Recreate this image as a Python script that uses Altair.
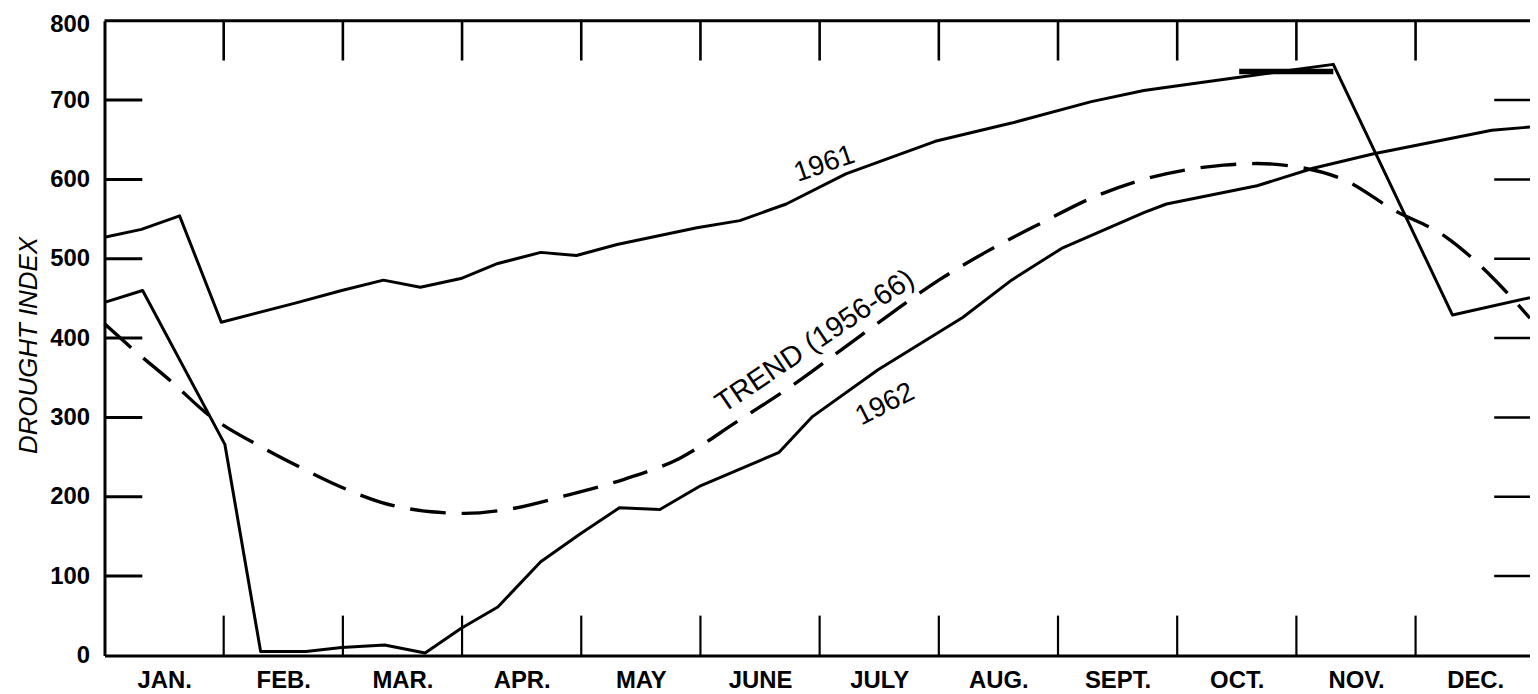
import altair as alt
import pandas as pd

# ---------------- data ----------------
MONTHS = ["JAN.", "FEB.", "MAR.", "APR.", "MAY", "JUNE", "JULY",
          "AUG.", "SEPT.", "OCT.", "NOV.", "DEC."]

# month position (0 = start of January) and drought index
t_1961 = [0.00, 0.31, 0.63, 0.98, 1.60, 1.99, 2.34, 2.65, 2.99, 3.30, 3.66,
          3.96, 4.30, 4.97, 5.33, 5.72, 6.22, 6.97, 7.61, 8.28, 8.72, 9.14,
          10.31, 11.31, 11.96]
v_1961 = [527, 537, 554, 420, 444, 460, 473, 464, 475, 494, 508,
          504, 518, 539, 548, 569, 607, 648, 671, 698, 712, 721,
          745, 429, 451]

t_1962 = [0.00, 0.32, 1.01, 1.31, 1.69, 1.99, 2.35, 2.69, 2.99, 3.30, 3.66,
          3.99, 4.32, 4.66, 4.99, 5.66, 5.94, 6.49, 7.20, 7.61, 8.03, 8.72,
          8.91, 9.67, 10.14, 10.64, 11.64, 11.96]
v_1962 = [445, 460, 266, 5, 5, 10, 13, 3, 34, 61, 118,
          153, 186, 184, 213, 256, 301, 360, 426, 473, 513, 558,
          569, 592, 614, 632, 662, 666]

t_trend = [0.00, 0.23, 0.57, 0.85, 1.35, 1.63, 1.90, 2.32, 2.74, 3.02, 3.38,
           3.86, 4.36, 4.82, 5.30, 5.76, 6.19, 6.59, 7.00, 7.39, 7.86, 8.29,
           8.72, 9.39, 9.67, 9.95, 10.42, 10.81, 11.25, 11.75, 11.96]
v_trend = [418, 387, 344, 306, 260, 238, 218, 193, 181, 179, 184,
           201, 222, 248, 294, 339, 386, 430, 473, 508, 545, 577,
           600, 618, 620, 617, 598, 562, 528, 460, 425]

# short heavy stroke drawn over the 1961 curve in late October / November
t_mark = [9.52, 10.31]
v_mark = [736, 736]

y_ticks = [0, 100, 200, 300, 400, 500, 600, 700, 800]
inner_ticks = [100, 200, 300, 400, 500, 600, 700]
month_bounds = [1, 2, 3, 4, 5, 6, 7, 8, 9, 10, 11]
label_pos = [m + 0.5 for m in range(12)]

label_text = ["1961", "1962", "TREND (1956-66)"]
label_t = [6.04, 6.55, 5.96]
label_v = [619, 316, 396]
label_angle = [341, 333, 326]
label_size = [28, 28, 29]

X_MAX = 11.96
W, H = 1433, 638
FONT = "Liberation Sans"

# ---------------- tables ----------------
lines = pd.concat([
    pd.DataFrame({"t": t_1961, "v": v_1961, "series": "1961"}),
    pd.DataFrame({"t": t_1962, "v": v_1962, "series": "1962"}),
])
trend = pd.DataFrame({"t": t_trend, "v": v_trend})
mark_df = pd.DataFrame({"t": t_mark, "v": v_mark})
inner_df = pd.DataFrame({"v": inner_ticks})
bounds_df = pd.DataFrame({"t": month_bounds})
labels_df = pd.DataFrame({"label": label_text, "t": label_t, "v": label_v,
                          "angle": label_angle, "size": label_size})
one = pd.DataFrame({"k": [0]})

month_expr = "[" + ",".join("'" + m + "'" for m in MONTHS) + "][floor(datum.value)]"

x_scale = alt.Scale(domain=[0, X_MAX], nice=False, zero=False)
y_scale = alt.Scale(domain=[0, 800], nice=False, zero=True)

x_axis = alt.Axis(values=label_pos, labelExpr=month_expr, title=None,
                  grid=False, ticks=False, tickSize=0, labelPadding=13,
                  labelFont=FONT, labelFontSize=24, labelFontWeight="bold",
                  labelColor="black", domainColor="black", domainWidth=3,
                  labelFlush=False, labelOverlap=False)
y_axis = alt.Axis(values=y_ticks, title="DROUGHT INDEX", grid=False,
                  ticks=False, tickSize=0, labelPadding=15,
                  labelFont=FONT, labelFontSize=24, labelFontWeight="bold",
                  labelColor="black", domainColor="black", domainWidth=3,
                  labelOffset={"condition": {"test": "datum.value == 800", "value": 4},
                               "value": 0},
                  titleFont=FONT, titleFontSize=26, titleFontStyle="italic",
                  titleFontWeight="normal", titleColor="black",
                  titleX=-76, titleY=326, titleAngle=270,
                  titleAlign="center", titleBaseline="middle",
                  labelFlush=False, labelOverlap=False)


def X(field="t"):
    return alt.X(field, type="quantitative", scale=x_scale, axis=x_axis)


def Y(field="v"):
    return alt.Y(field, type="quantitative", scale=y_scale, axis=y_axis)


solid = alt.Chart(lines).mark_line(color="black", strokeWidth=3,
                                   strokeJoin="round").encode(
    x=X(), y=Y(), detail="series:N", order="t:Q")

dashed = alt.Chart(trend).mark_line(color="black", strokeWidth=3.4,
                                    strokeDash=[36, 16], interpolate="monotone").encode(
    x=X(), y=Y(), order="t:Q")

heavy = alt.Chart(mark_df).mark_line(color="black", strokeWidth=5.5).encode(
    x=X(), y=Y())

left_ticks = alt.Chart(inner_df).mark_rule(color="black", strokeWidth=3).encode(
    y=Y(), x=alt.value(0), x2=alt.value(38))

right_ticks = alt.Chart(inner_df).mark_rule(color="black", strokeWidth=2.5).encode(
    y=Y(), x=alt.value(W - 36), x2=alt.value(W))

bottom_ticks = alt.Chart(bounds_df).mark_rule(color="black", strokeWidth=2.2).encode(
    x=X(), y=alt.value(H), y2=alt.value(H - 40))

top_ticks = alt.Chart(bounds_df).mark_rule(color="black", strokeWidth=2.6).encode(
    x=X(), y=alt.value(0), y2=alt.value(40))

top_border = alt.Chart(one).mark_rule(color="black", strokeWidth=3).encode(
    y=alt.value(0), x=alt.value(0), x2=alt.value(W))

texts = alt.Chart(labels_df).mark_text(font=FONT, color="black",
                                       align="center", baseline="middle").encode(
    x=X(), y=Y(), text="label:N",
    angle=alt.Angle("angle:Q", scale=None),
    size=alt.Size("size:Q", scale=None))

chart = alt.layer(
    solid, dashed, heavy, left_ticks, right_ticks, bottom_ticks, top_ticks,
    top_border, texts
).properties(
    width=W, height=H,
    autosize=alt.AutoSizeParams(type="none"),
    padding={"left": 97, "top": 11, "right": 0, "bottom": 36},
    background="white",
).configure_view(stroke=None)

chart.save("out.html", embed_options={"renderer": "svg", "actions": False})
